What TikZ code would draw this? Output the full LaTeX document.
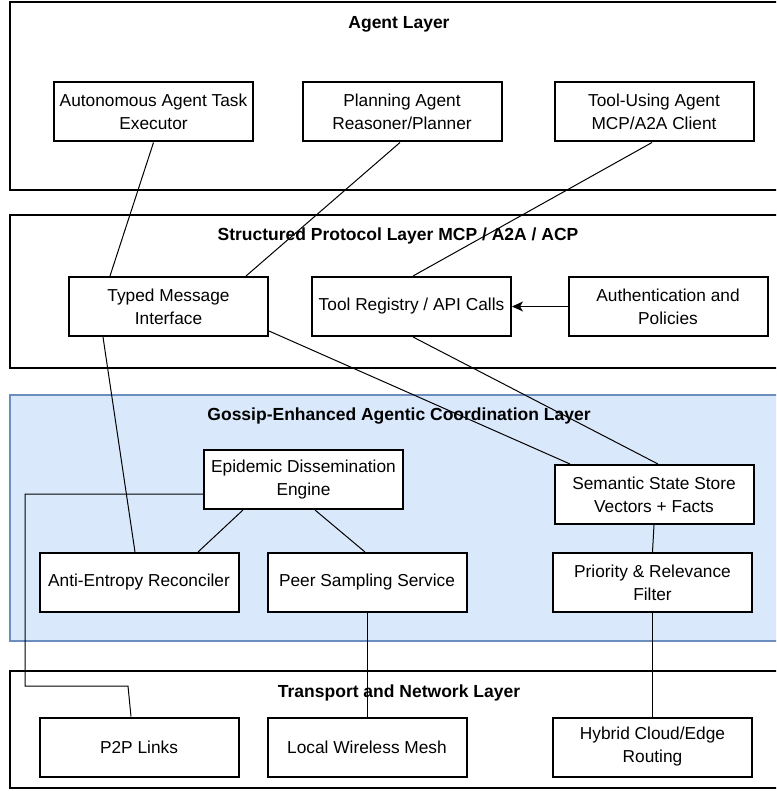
\documentclass[tikz,border=0pt]{standalone}
\usepackage{fontspec}
\setmainfont{Liberation Sans}
\usetikzlibrary{arrows.meta}
\definecolor{gossipfill}{HTML}{DAE8FC}
\definecolor{gossipedge}{HTML}{6C8EBF}
\begin{document}
\begin{tikzpicture}[x=1pt,y=-1pt,
  box/.style={draw, line width=2pt, fill=white, minimum width=199pt, minimum height=59pt,
    inner sep=0pt, align=center, font=\fontsize{17.3}{23}\selectfont},
  layerbox/.style={draw, line width=2pt},
  gossipbox/.style={draw=gossipedge, fill=gossipfill, line width=2pt},
  title/.style={font=\fontsize{17.5}{21}\selectfont\bfseries, inner sep=0pt},
  link/.style={draw, line width=1pt},
  arrowlink/.style={link, -{Stealth[length=11pt,width=10pt,inset=3pt]}},
]
\clip (0,0) rectangle (776,791);

% layers
\draw[layerbox] (10,2) rectangle (788,190);
\draw[layerbox] (10,215) rectangle (788,368);
\draw[gossipbox] (10,395) rectangle (788,641);
\draw[layerbox] (10,671) rectangle (788,788);

\node[title] (agentlayer) at (399,24) {Agent Layer};
\node[title] (protolayer) at (398,236) {Structured Protocol Layer MCP / A2A / ACP};
\node[title] (gossiplayer) at (399,416) {Gossip-Enhanced Agentic Coordination Layer};
\node[title] (netlayer) at (399,693) {Transport and Network Layer};

% agent layer
\node[box] (exec) at (153.5,112) {Autonomous Agent Task\\Executor};
\node[box] (plan) at (402,112) {Planning Agent\\Reasoner/Planner};
\node[box] (tooluse) at (654,112) {Tool-Using Agent\\MCP/A2A Client};

% protocol layer
\node[box] (typed) at (168.5,306.5) {Typed Message\\Interface};
\node[box] (registry) at (411.5,306.5) {Tool Registry / API Calls};
\node[box] (auth) at (668,306.5) {Authentication and\\Policies};

% gossip layer
\node[box] (epi) at (303.5,479.5) {Epidemic Dissemination\\Engine};
\node[box] (sem) at (654,494.5) {Semantic State Store\\Vectors + Facts};
\node[box] (anti) at (139,582.5) {Anti-Entropy Reconciler};
\node[box] (peer) at (367,582.5) {Peer Sampling Service};
\node[box] (prio) at (652.5,582.5) {Priority \& Relevance\\Filter};

% transport layer
\node[box] (p2p) at (139,747) {P2P Links};
\node[box] (mesh) at (367,747) {Local Wireless Mesh};
\node[box] (hybrid) at (652.5,747) {Hybrid Cloud/Edge\\Routing};

% connectors
\draw[link] (exec.south) -- ([xshift=-58.5pt]typed.north);
\draw[link] ([xshift=-2pt]plan.south) -- ([xshift=77.5pt]typed.north);
\draw[link] ([xshift=-2pt]tooluse.south) -- ([xshift=1.5pt]registry.north);
\draw[arrowlink] (auth.west) -- (registry.east);
\draw[link] ([xshift=-65.5pt]typed.south) -- ([xshift=-4pt]anti.north);
\draw[link] ([yshift=-24.5pt]typed.east) -- ([xshift=-84pt]sem.north);
\draw[link] ([xshift=1.5pt]registry.south) -- ([xshift=4pt]sem.north);
\draw[link] ([xshift=-60.5pt]epi.south) -- ([xshift=59pt]anti.north);
\draw[link] ([xshift=11.5pt]epi.south) -- ([xshift=-2pt]peer.north);
\coordinate (bendA) at (25,494);
\coordinate (bendB) at (25,686);
\coordinate (bendC) at (128,686);
\draw[link] ([yshift=-14.5pt]epi.west) -- (bendA) -- (bendB) -- (bendC) -- ([xshift=-8pt]p2p.north);
\draw[link] (peer.south) -- (mesh.north);
\draw[link] (sem.south) -- (prio.north);
\draw[link] (prio.south) -- (hybrid.north);
\end{tikzpicture}
\end{document}
